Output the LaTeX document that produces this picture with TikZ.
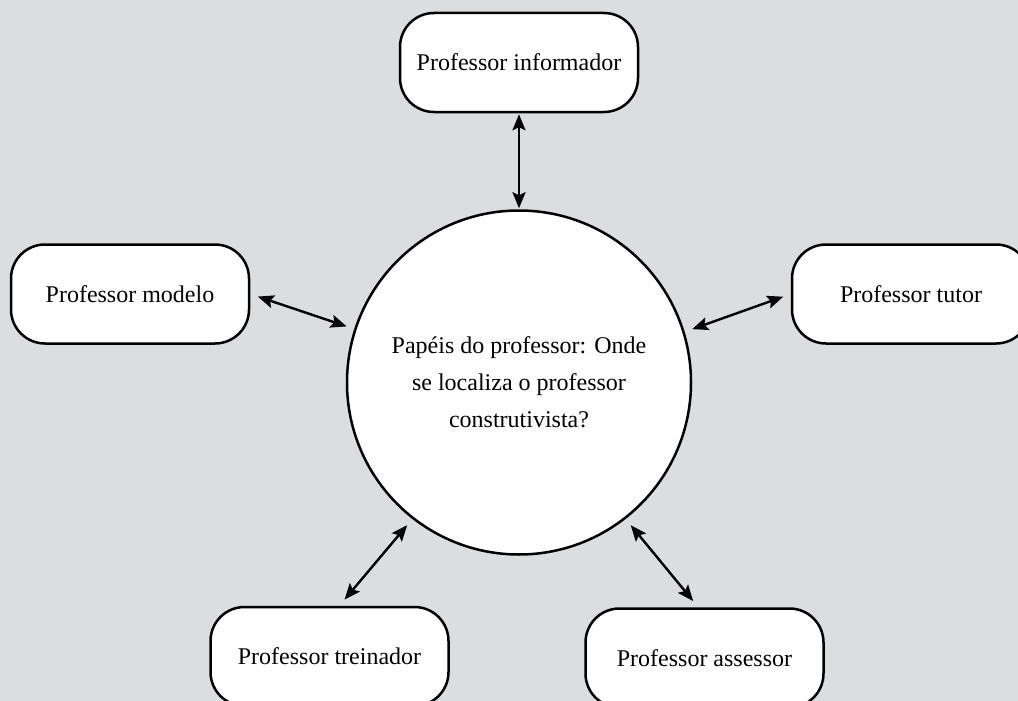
\documentclass[tikz,border=0pt]{standalone}
\usepackage{fontspec}
\setmainfont{Liberation Serif}
\usetikzlibrary{arrows.meta}
\definecolor{bg}{RGB}{220,221,223}
\begin{document}
\begin{tikzpicture}[x=1pt,y=-1pt,
  rolebox/.style={draw=black, line width=2.5pt, fill=white, rounded corners=34pt,
    minimum width=238pt, minimum height=99pt, inner sep=0pt,
    font=\fontsize{24}{29}\selectfont},
  hub/.style={draw=black, line width=2.5pt, fill=white, circle, minimum size=344pt,
    inner sep=0pt, align=center, font=\fontsize{24}{37}\selectfont},
  link/.style={line width=2.4pt,
    {Stealth[length=16pt,width=13pt,inset=3pt]}-{Stealth[length=16pt,width=13pt,inset=3pt]},
    shorten <=8pt, shorten >=8pt}]
\useasboundingbox (0,0) rectangle (1018,701);
\fill[bg] (0,0) rectangle (1018,701);
\clip (0,0) rectangle (1018,701);

\node[hub] (c) at (519,382.5) {Papéis do professor: Onde\\se localiza o professor\\construtivista?};

\node[rolebox] (inf) at (519,62.5) {Professor informador};
\node[rolebox] (mod) at (130,294) {Professor modelo};
\node[rolebox] (tut) at (911,294) {Professor tutor};
\node[rolebox] (tre) at (329.5,656.5) {Professor treinador};
\node[rolebox] (ass) at (704.5,658) {Professor assessor};

\draw[link, shorten <=1pt, shorten >=1pt] (inf.south) -- (c.north);
\draw[link] (mod.east) -- (c.162.5);
\draw[link] (tut.west) -- (c.17.6);
\draw[link] (tre.79) -- (c.232.5);
\draw[link] (ass.97.7) -- (c.308.3);
\end{tikzpicture}
\end{document}
